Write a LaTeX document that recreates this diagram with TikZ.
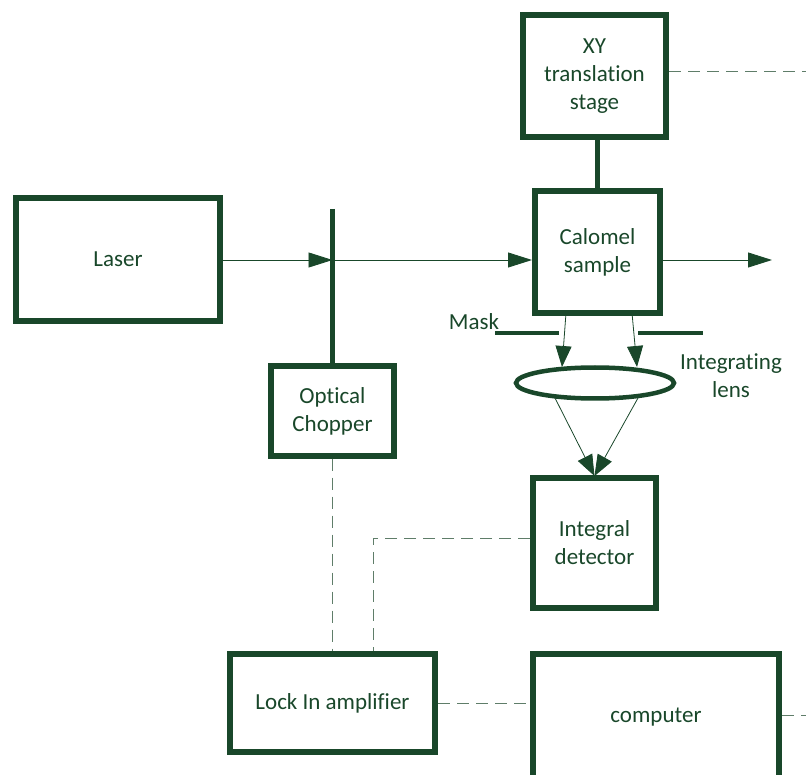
\documentclass[tikz,border=0pt]{standalone}
\usepackage{fontspec}
\setmainfont{Carlito}[Ligatures=NoCommon]
\usetikzlibrary{arrows.meta,shapes.geometric,calc}
\definecolor{dg}{RGB}{25,71,42}
\definecolor{dl}{RGB}{95,125,105}
\begin{document}
\begin{tikzpicture}[x=1pt,y=-1pt,
  every node/.style={text=dg,font=\fontsize{23}{28}\selectfont},
  box/.style={draw=dg,line width=6pt,rectangle,align=center,inner sep=0pt},
  beam/.style={draw=dg,line width=0.9pt,-{Triangle[length=24pt,width=15pt]}},
  ray/.style={draw=dg,line width=0.8pt,-{Triangle[length=21pt,width=16pt]}},
  sig/.style={draw=dl,line width=0.9pt,dash pattern=on 12pt off 7pt},
  bar/.style={draw=dg,line width=4.5pt}]
\useasboundingbox (0,0) rectangle (806,775);
\clip (0,0) rectangle (806,775);
% boxes
\node[box,minimum width=143pt,minimum height=122pt] (xy) at (594.5,76) {XY\\translation\\stage};
\node[box,minimum width=204pt,minimum height=123pt] (laser) at (118,259.5) {Laser};
\node[box,minimum width=125pt,minimum height=122pt] (calomel) at (597.5,252) {Calomel\\sample};
\node[box,minimum width=123pt,minimum height=89pt] (chopper) at (332.5,411) {Optical\\Chopper};
\node[box,minimum width=123pt,minimum height=130pt] (det) at (594.5,542.5) {Integral\\detector};
\node[box,minimum width=205pt,minimum height=98pt] (lockin) at (332.5,703) {Lock In amplifier};
\node[box,minimum width=246pt,minimum height=126pt] (computer) at (656,717) {computer};
\node[draw=dg,line width=4.5pt,ellipse,minimum width=158pt,minimum height=31pt] (lens) at (595,383) {};
% labels
\node (masklbl) at (474,322) {Mask};
\node[align=center] (lenslbl) at (731,376) {Integrating\\lens};
% coordinates
\coordinate (chtop) at (332.5,209);
\coordinate (cross) at (332.5,260);
\coordinate (beamout) at (772,260);
\coordinate (m1a) at (495,333);
\coordinate (m1b) at (559,333);
\coordinate (m2a) at (638,333);
\coordinate (m2b) at (703,333);
\coordinate (r1s) at (566,313);
\coordinate (r1e) at (562,367);
\coordinate (r2s) at (632,313);
\coordinate (r2e) at (637,367);
\coordinate (l1s) at (555,398);
\coordinate (l2s) at (638,398);
\coordinate (ltip) at (594.5,476);
\coordinate (xyout) at (806,71);
\coordinate (dcorner) at (373,538);
\coordinate (cmpout) at (806,715);
% mechanical links
\draw[line width=4.5pt,draw=dg] (chtop) -- (chopper.north);
\draw[line width=5pt,draw=dg] (calomel.north) -- (calomel.north |- xy.south);
% beam
\draw[beam] (laser.east |- cross) -- (cross);
\draw[beam] (cross) -- (calomel.west |- cross);
\draw[beam] (calomel.east |- cross) -- (beamout);
% mask
\draw[bar] (m1a) -- (m1b);
\draw[bar] (m2a) -- (m2b);
% rays
\draw[ray] (r1s) -- (r1e);
\draw[ray] (r2s) -- (r2e);
\draw[ray] (l1s) -- (ltip);
\draw[ray] (l2s) -- (ltip);
% signal lines
\draw[sig] (xy.east |- xyout) -- (xyout);
\draw[sig] (chopper.south) -- (chopper.south |- lockin.north);
\draw[sig] (det.west |- dcorner) -- (dcorner) -- (dcorner |- lockin.north);
\draw[sig] (lockin.east) -- (lockin.east -| computer.west);
\draw[sig] (computer.east |- cmpout) -- (cmpout);
\end{tikzpicture}
\end{document}
